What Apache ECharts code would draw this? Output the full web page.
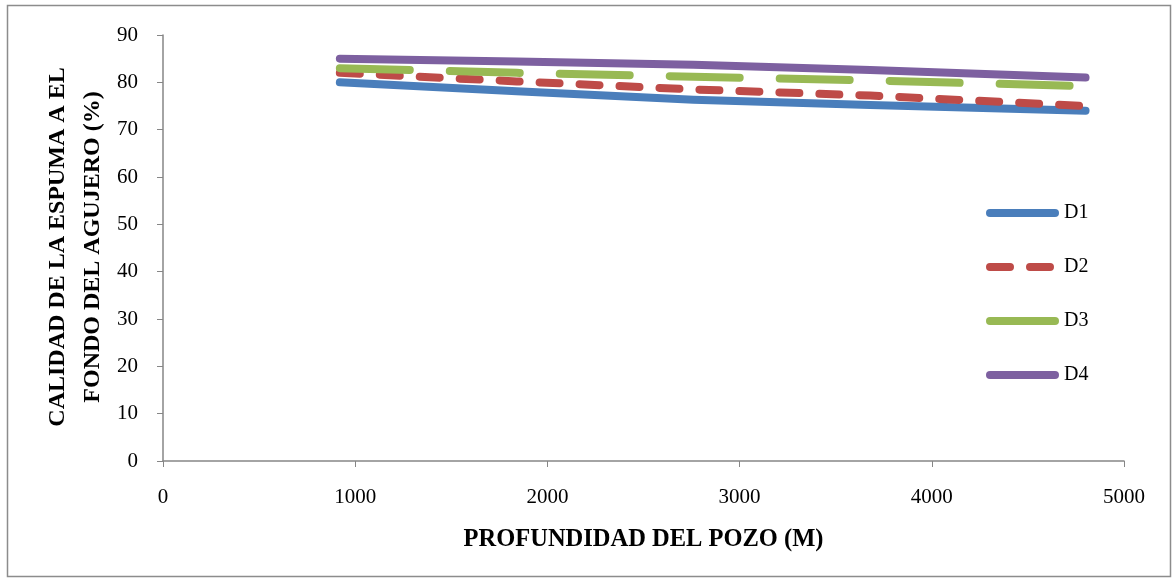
<!DOCTYPE html>
<html><head><meta charset="utf-8">
<script src="https://cdn.jsdelivr.net/npm/echarts@6/dist/echarts.min.js"></script>
<style>html,body{margin:0;padding:0;background:#fff}#c{width:1172px;height:578px}</style>
</head><body><div id="c"></div>
<script>
const depth = [920, 1840, 2760, 3680, 4800];
const D1 = [80, 78.1, 76.3, 75.2, 74];
const D2 = [82, 80.2, 78.5, 77.2, 75];
const D3 = [83, 82.0, 81.2, 80.4, 79.2];
const D4 = [85, 84.4, 83.7, 82.6, 81];
const names = ['D1', 'D2', 'D3', 'D4'];
const colors = ['#4a7ebb', '#be4b48', '#98b954', '#7d60a0'];
const seriesData = [D1, D2, D3, D4];
const dashTypes = ['solid', [20, 20], [70, 40], 'solid'];

const chart = echarts.init(document.getElementById('c'));
const font = '"Liberation Serif", "DejaVu Serif", serif';
chart.setOption({
  animation: false,
  graphic: [
    {type: 'rect', shape: {x: 7.5, y: 5.5, width: 1163, height: 571}, style: {fill: 'none', stroke: '#8c8c8c', lineWidth: 1.5}},
    {type: 'text', x: 75, y: 247, rotation: Math.PI / 2,
     style: {text: 'CALIDAD DE LA ESPUMA A EL\nFONDO DEL AGUJERO (%)', textAlign: 'center', textVerticalAlign: 'middle',
             font: 'bold 24px ' + font, fill: '#000', lineHeight: 35}}
  ],
  grid: {left: 163, right: 48, top: 35, bottom: 117},
  legend: {
    orient: 'vertical', left: 981, top: 198, itemWidth: 65, itemHeight: 12, itemGap: 34,
    itemStyle: {opacity: 0},
    lineStyle: {width: 8, cap: 'round'},
    textStyle: {fontFamily: font, fontSize: 20, color: '#000', padding: [0, 0, 0, 4]},
    data: names
  },
  xAxis: {
    type: 'value', min: 0, max: 5000, interval: 1000,
    name: 'PROFUNDIDAD DEL POZO (M)', nameLocation: 'middle', nameGap: 66,
    nameTextStyle: {fontFamily: font, fontSize: 24.5, fontWeight: 'bold', color: '#000'},
    axisLine: {lineStyle: {color: '#868686', width: 1.5}},
    axisTick: {show: true, length: 6, lineStyle: {color: '#868686'}},
    axisLabel: {fontFamily: font, fontSize: 21, color: '#000', margin: 26, formatter: v => String(v)},
    splitLine: {show: false}
  },
  yAxis: {
    type: 'value', min: 0, max: 90, interval: 10,
    axisLine: {show: true, lineStyle: {color: '#868686', width: 1.5}},
    axisTick: {show: true, length: 6, lineStyle: {color: '#868686'}},
    axisLabel: {fontFamily: font, fontSize: 21, color: '#000', margin: 25},
    splitLine: {show: false}
  },
  series: seriesData.map((d, i) => ({
    name: names[i], type: 'line', showSymbol: false, symbol: 'none',
    data: depth.map((x, j) => [x, d[j]]),
    itemStyle: {color: colors[i]},
    lineStyle: {color: colors[i], width: 8, cap: 'round', join: 'round', type: dashTypes[i]}
  }))
});
</script></body></html>
